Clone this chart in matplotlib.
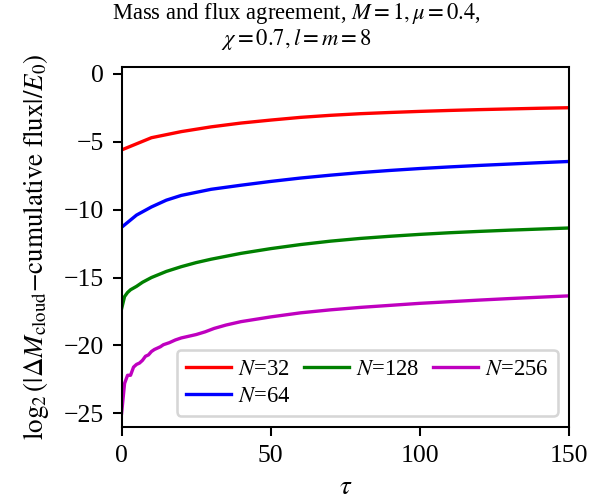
import numpy as np
import matplotlib
matplotlib.use("Agg")
import matplotlib.pyplot as plt

plt.rcParams["font.family"] = ["Liberation Serif", "DejaVu Serif"]
plt.rcParams["mathtext.fontset"] = "stix"
plt.rcParams["font.size"] = 10

# log2 of the mass/flux mismatch for each resolution
tau_32 = [0, 10, 20, 30, 40, 50, 60, 70, 80, 90, 100, 110, 120, 130, 140, 150]
err_32 = [-5.6, -4.7, -4.25, -3.9, -3.62, -3.4, -3.2, -3.05, -2.93, -2.84, -2.76,
          -2.69, -2.63, -2.58, -2.53, -2.49]

tau_64 = [0, 5, 10, 15, 20, 30, 40, 50, 60, 70, 80, 90, 100, 110, 120, 130, 140, 150]
err_64 = [-11.3, -10.4, -9.8, -9.3, -8.95, -8.5, -8.2, -7.92, -7.67, -7.46, -7.27,
          -7.11, -6.97, -6.85, -6.74, -6.64, -6.54, -6.45]

tau_128 = [0, 1, 2, 3, 5, 7, 10, 15, 20, 25, 30, 40, 50, 60, 70, 80, 90, 100,
           110, 120, 130, 140, 150]
err_128 = [-17.3, -16.4, -16.1, -15.9, -15.65, -15.35, -15.0, -14.55, -14.2, -13.9,
           -13.65, -13.22, -12.87, -12.57, -12.32, -12.12, -11.96, -11.82, -11.7,
           -11.6, -11.51, -11.43, -11.35]

tau_256 = [0, 1, 2, 3, 4, 5, 6, 7, 8, 9, 10, 11, 12, 13, 14, 16, 18, 20, 22, 25,
           28, 31, 35, 40, 50, 60, 70, 80, 90, 100, 110, 120, 130, 140, 150]
err_256 = [-25.0, -22.8, -22.2, -22.2, -21.6, -21.4, -21.3, -21.1, -20.8, -20.7,
           -20.45, -20.3, -20.2, -20.1, -19.95, -19.8, -19.6, -19.45, -19.35, -19.2,
           -19.0, -18.75, -18.5, -18.25, -17.9, -17.6, -17.38, -17.2, -17.05, -16.9,
           -16.78, -16.66, -16.55, -16.45, -16.35]

dpi = 185
fig = plt.figure(figsize=(608 / dpi, 501 / dpi), dpi=dpi)
ax = fig.add_axes([0.200, 0.148, 0.736, 0.718])

ax.plot(tau_32, err_32, color="r", lw=1.3, label=r"$N$=32")
ax.plot(tau_64, err_64, color="b", lw=1.3, label=r"$N$=64")
ax.plot(tau_128, err_128, color="g", lw=1.3, label=r"$N$=128")
ax.plot(tau_256, err_256, color="m", lw=1.3, label=r"$N$=256")

ax.set_xlim(0, 150)
ax.set_ylim(-26, 0.5)
ax.set_xticks([0, 50, 100, 150])
ax.set_yticks([0, -5, -10, -15, -20, -25])

ax.set_xlabel(r"$\tau$", fontsize=10.5, labelpad=3)
ax.set_ylabel(r"$\log_2(|\Delta M_{\rm cloud}{-}{\rm cumulative\ flux}|/E_0)$",
              fontsize=10.5, labelpad=5)
fig.suptitle("Mass and flux agreement, $M=1,\\mu=0.4$,\n$\\chi=0.7,l=m=8$",
             x=0.488, y=0.998, va="top", fontsize=8.8, linespacing=1.05)
ax.legend(loc="lower right", ncol=3, fontsize=8.8, handlelength=2.0,
          handletextpad=0.3, columnspacing=0.6, labelspacing=0.25)

plt.savefig("out.png", dpi=dpi)
